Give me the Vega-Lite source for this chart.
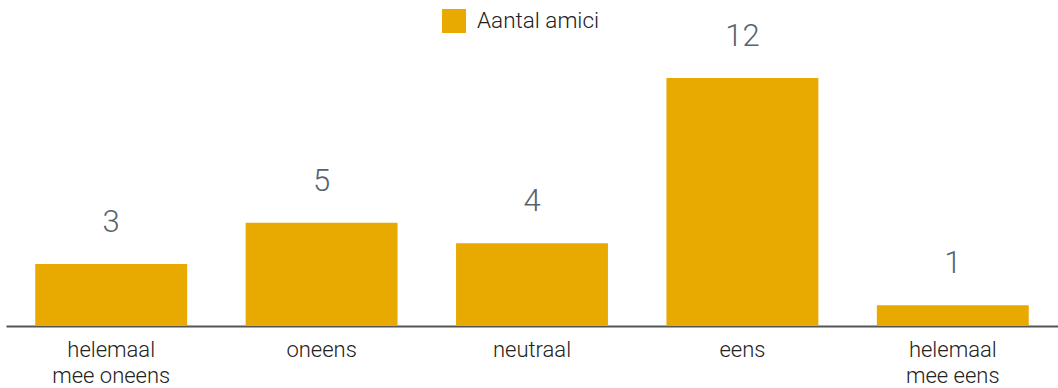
{
  "$schema": "https://vega.github.io/schema/vega-lite/v6.json",
  "autosize": "none",
  "width": 1052,
  "height": 326,
  "padding": {"left": 6, "top": 0, "right": 0, "bottom": 62},
  "background": "white",
  "config": {
    "view": {"stroke": null},
    "font": "Roboto"
  },
  "data": {
    "values": [
      {"categorie": "helemaal mee oneens", "reeks": "Aantal amici", "aantal": 3},
      {"categorie": "oneens", "reeks": "Aantal amici", "aantal": 5},
      {"categorie": "neutraal", "reeks": "Aantal amici", "aantal": 4},
      {"categorie": "eens", "reeks": "Aantal amici", "aantal": 12},
      {"categorie": "helemaal mee eens", "reeks": "Aantal amici", "aantal": 1}
    ]
  },
  "encoding": {
    "x": {
      "field": "categorie",
      "type": "nominal",
      "sort": null,
      "scale": {"paddingInner": 0.278, "paddingOuter": 0.139},
      "axis": {
        "title": null,
        "labelAngle": 0,
        "ticks": false,
        "grid": false,
        "domainColor": "#555555",
        "domainWidth": 2,
        "labelFont": "Roboto",
        "labelFontWeight": 300,
        "labelFontSize": 22,
        "labelColor": "#222222",
        "labelPadding": 13,
        "labelLineHeight": 26,
        "labelExpr": "datum.label === 'helemaal mee oneens' ? ['helemaal', 'mee oneens'] : datum.label === 'helemaal mee eens' ? ['helemaal', 'mee eens'] : datum.label"
      }
    },
    "y": {
      "field": "aantal",
      "type": "quantitative",
      "scale": {"domain": [0, 15.77], "nice": false},
      "axis": null
    }
  },
  "layer": [
    {
      "mark": {"type": "bar", "color": "#E8A900"},
      "encoding": {
        "color": {
          "field": "reeks",
          "type": "nominal",
          "scale": {"range": ["#E8A900"]},
          "legend": {
            "title": null,
            "orient": "none",
            "legendX": 436,
            "legendY": 9,
            "symbolType": "square",
            "symbolSize": 576,
            "symbolStrokeWidth": 0,
            "labelFont": "Roboto",
            "labelFontWeight": 300,
            "labelFontSize": 22.5,
            "labelColor": "#222222",
            "labelOffset": 11
          }
        }
      }
    },
    {
      "mark": {
        "type": "text",
        "baseline": "alphabetic",
        "dy": -32,
        "font": "Roboto",
        "fontWeight": 300,
        "fontSize": 31,
        "color": "#56646d"
      },
      "encoding": {
        "text": {"field": "aantal", "type": "quantitative"}
      }
    }
  ]
}
